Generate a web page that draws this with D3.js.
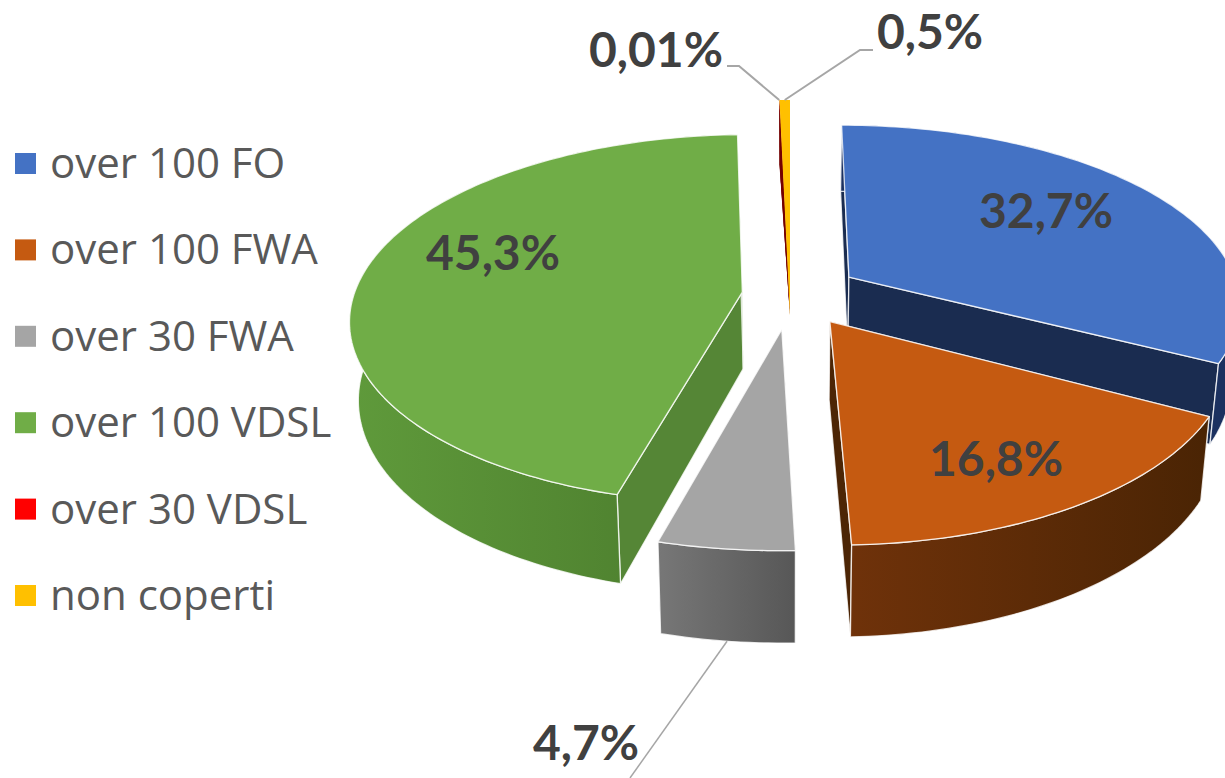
<!DOCTYPE html>
<html><head><meta charset="utf-8">
<script src="https://cdnjs.cloudflare.com/ajax/libs/d3/7.8.5/d3.min.js"></script>
<style>html,body{margin:0;padding:0;background:#fff}svg{display:block}</style>
</head><body><svg id="c" width="1225" height="778"></svg>
<script>
const categories = ["over 100 FO","over 100 FWA","over 30 FWA","over 100 VDSL","over 30 VDSL","non coperti"];
const values = [32.7,16.8,4.7,45.3,0.01,0.5];
const labels = ["32,7%","16,8%","4,7%","45,3%","0,01%","0,5%"];
const topColors = ["#4472c4","#c55a11","#a5a5a5","#70ad47","#ff0000","#ffc000"];
const edgeColors = ["#1a2c50","#4c2505","#5a5a5a","#558636","#740000","#740000"];
const wallLeft = ["#1b3160","#6f320a","#777777","#5f9a3b","#740000","#a07800"];
const wallRight = ["#1b3160","#4a2404","#575757","#4a7a2c","#740000","#a07800"];
// per-slice offset of the apex on the pie plane (explosion), and radial stretch per axis
const explodeX = [0.15,0.098,-0.02,-0.12,0,0];
const explodeY = [-0.129,0.118,0.16,-0.044,0.087,0.087];
const stretchX = [0.982,0.972,0.985,0.975,1,1];
const stretchY = [1,1.02,1,1.015,1.41,1.41];
const drawOrder = [3,0,4,5,1,2];

const cx=790, cy=300, R=400, A=180, P=0.144, D=77;
const svg=d3.select("#c"), defs=svg.append("defs");
const pie=d3.pie().sort(null).value(d=>d).startAngle(0).endAngle(2*Math.PI);
const arcs=pie(values);
const line=d3.line();
function plane(i,a,r){return [explodeX[i]+r*stretchX[i]*Math.sin(a), explodeY[i]-r*stretchY[i]*Math.cos(a)];}
function proj(p,z){const s=1/(1-P*p[1]), f=1-0.02*z;
  return [cx+R*p[0]*s*f, cy+(A*p[1]+D*z)*s];}
function arcPts(i,z,from,to){const n=Math.max(2,Math.ceil(Math.abs(to-from)/0.02));
  return d3.range(n+1).map(k=>proj(plane(i,from+(to-from)*k/n,1),z));}
const edge={stroke:"#fff","stroke-opacity":0.8,"stroke-width":1.3,"stroke-linejoin":"round"};
function face(pts,fill){const p=svg.append("path").attr("d",line(pts)+"Z").attr("fill",fill);
  Object.entries(edge).forEach(([k,v])=>p.attr(k,v));return p;}

drawOrder.forEach(i=>{
  const d=arcs[i], a0=d.startAngle, a1=d.endAngle, ap=proj(plane(i,0,0),0);
  const thin=i>=4;
  const ap1=thin?ap:proj(plane(i,0,0),1);
  const s0=proj(plane(i,a0,1),0), s1=proj(plane(i,a0,1),1), e0=proj(plane(i,a1,1),0), e1=proj(plane(i,a1,1),1);
  const strokeOff=p=>{if(thin)p.attr("stroke","none");return p;};
  strokeOff(face([ap,s0,s1,ap1],edgeColors[i]));
  strokeOff(face([ap,e0,e1,ap1],edgeColors[i]));
  const id="w"+i, g=defs.append("linearGradient").attr("id",id);
  g.append("stop").attr("offset",0).attr("stop-color",wallLeft[i]);
  g.append("stop").attr("offset",1).attr("stop-color",wallRight[i]);
  if(!thin) face(arcPts(i,0,a0,a1).concat(arcPts(i,1,a1,a0)),`url(#${id})`);
  strokeOff(face([ap].concat(arcPts(i,0,a0,a1)),topColors[i]));
});

// leader lines
const leader=(pts)=>svg.append("path").attr("d",line(pts)).attr("fill","none").attr("stroke","#a6a6a6").attr("stroke-width",2);
leader([[727,66],[739,66],proj(plane(4,arcs[4].startAngle,1),0)]);
leader([proj(plane(5,(arcs[5].startAngle+arcs[5].endAngle)/2,1),0),[860,50],[873,50]]);
leader([proj(plane(2,(arcs[2].startAngle+arcs[2].endAngle)/2,1),1),[630,778]]).attr("stroke-width",1.5);

// data labels
const labelFont="Lato, 'Open Sans', sans-serif";
const labelPos=[[1046,228],[996,476],[586,760],[493,270],[656,67],[930,49]];
labels.forEach((t,i)=>svg.append("text").text(t).attr("x",labelPos[i][0]).attr("y",labelPos[i][1])
  .attr("text-anchor","middle").attr("font-family",labelFont).attr("font-weight",700)
  .attr("font-size",48).attr("fill","#404040"));

// legend
const legendY=d3.scalePoint().domain(categories).range([163.5,595.5]);
categories.forEach((c,i)=>{
  svg.append("rect").attr("x",15).attr("y",legendY(c)-10.5).attr("width",21).attr("height",21).attr("fill",topColors[i]);
  svg.append("text").text(c).attr("x",50).attr("y",legendY(c)+14.5).attr("font-family","'Open Sans', sans-serif")
    .attr("font-size",42).attr("fill","#595959");
});
</script></body></html>
